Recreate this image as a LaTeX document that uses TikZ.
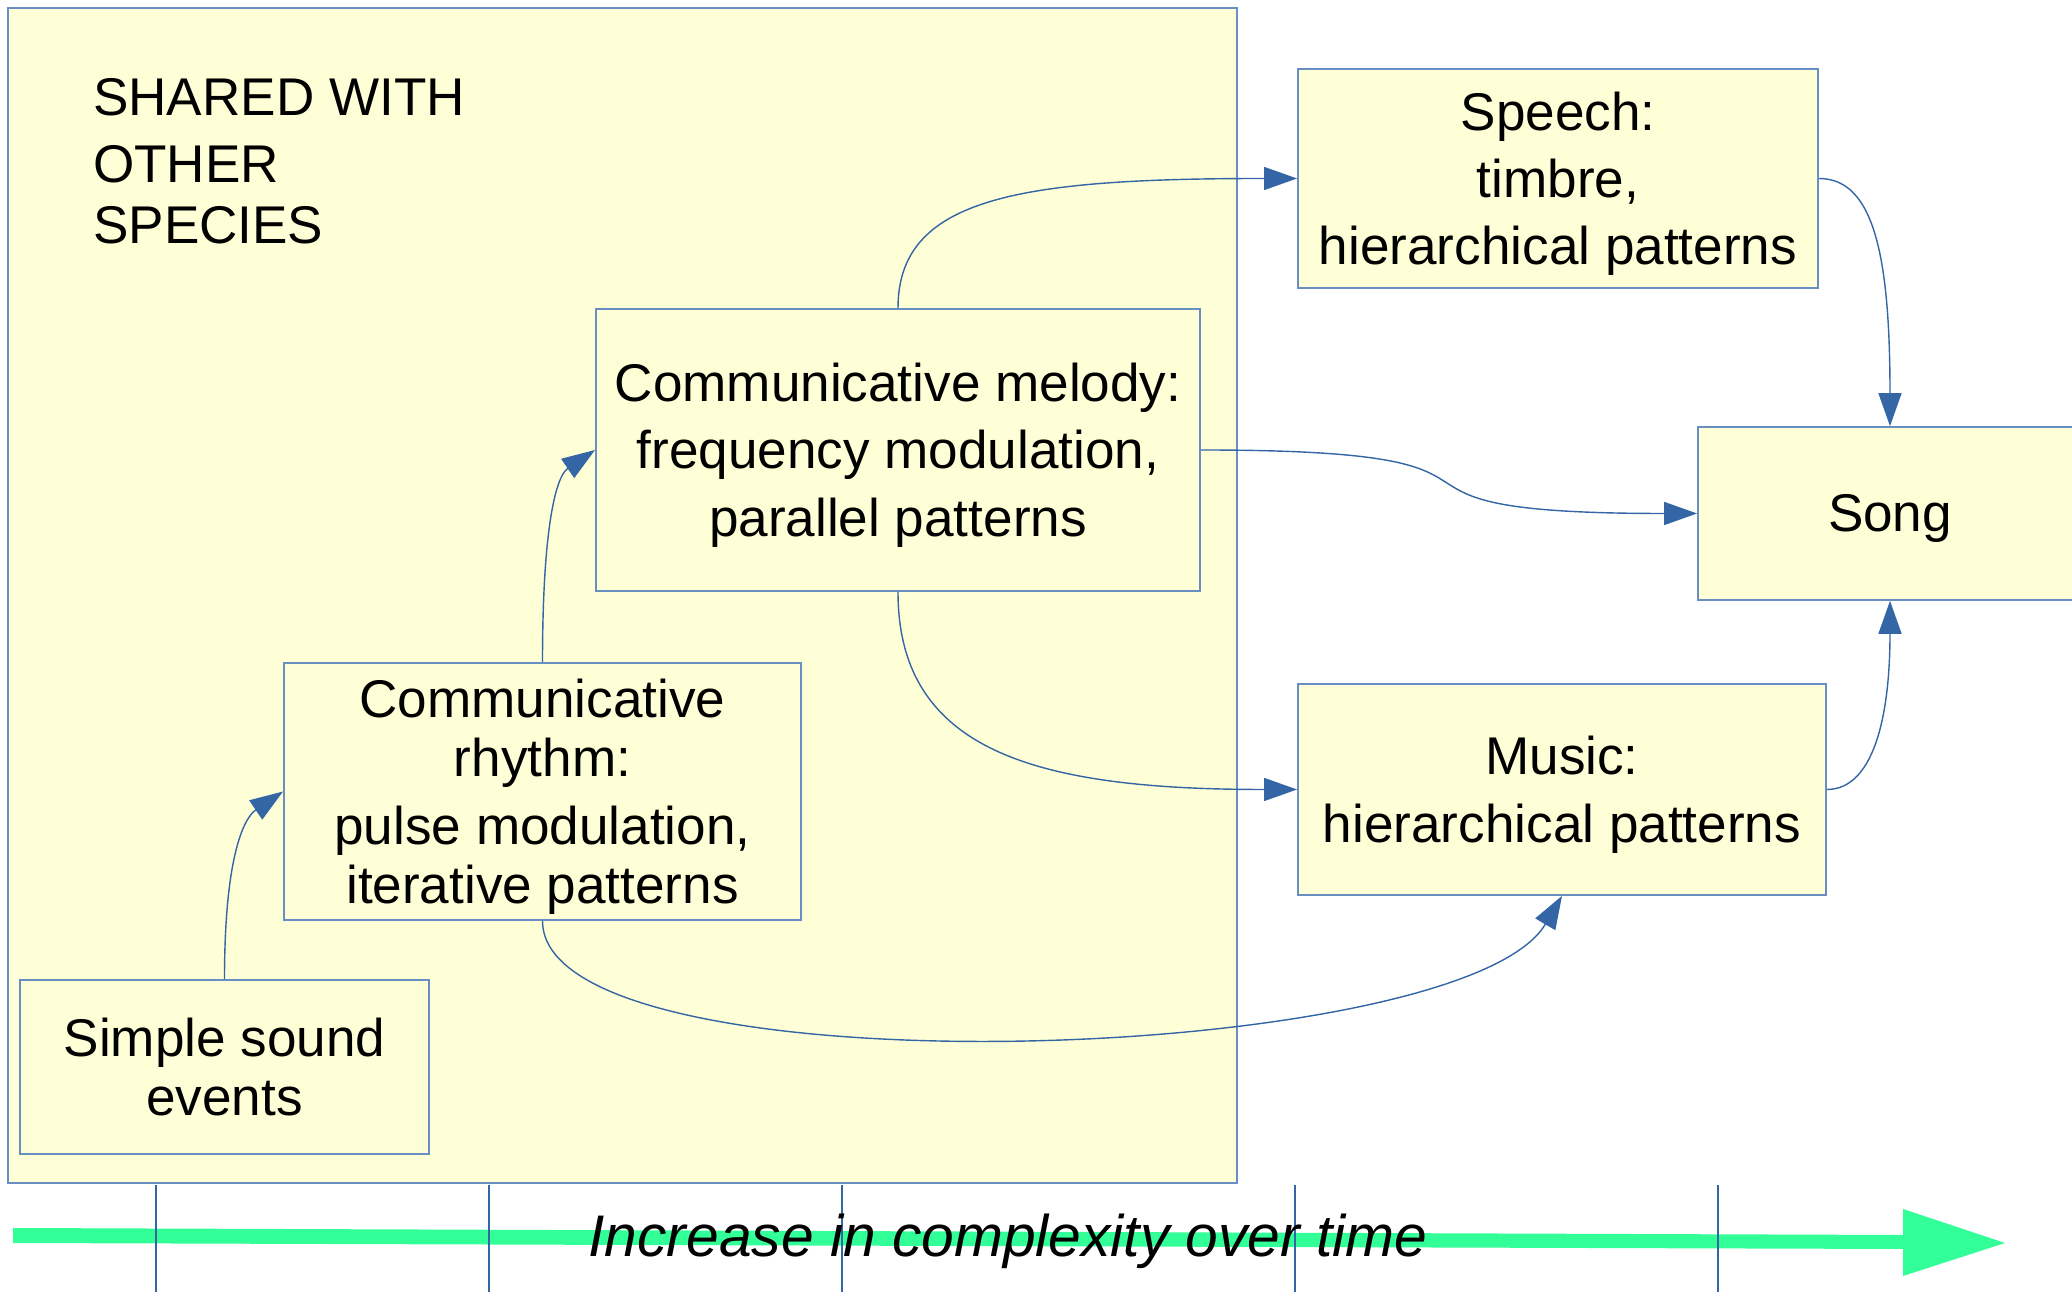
\documentclass[tikz,border=0pt]{standalone}
\usepackage{fontspec}
\setmainfont{Liberation Sans}
\usetikzlibrary{arrows.meta}
\definecolor{boxfill}{RGB}{255,255,215}
\definecolor{boxline}{RGB}{104,142,196}
\definecolor{linkblue}{RGB}{52,101,164}
\definecolor{timegreen}{RGB}{51,255,153}
\tikzset{
  stage/.style={draw=boxline, line width=0.45pt, fill=boxfill, inner sep=0pt},
  stagetext/.style={align=center, inner sep=0pt, font=\fontsize{15.1}{19.1}\selectfont},
  link/.style={draw=linkblue, line width=0.4pt,
    -{Triangle[length=0.33cm, width=0.23cm]}},
  tick/.style={draw=linkblue, line width=0.4pt},
}
\begin{document}
\begin{tikzpicture}[x=0.01cm, y=-0.01cm]
\useasboundingbox (0,0) rectangle (2072,1292);
\clip (0,0) rectangle (2072,1292);

% common ancestry region
\node[draw=boxline, fill=boxfill, line width=0.6pt, minimum width=12.29cm, minimum height=11.75cm] (shared) at (622.5,595.5) {};
\node[stagetext, anchor=west, align=left] (sharedlabel) at (92.5,161)
  {SHARED WITH\\ OTHER\\[-1.7pt] SPECIES};

% stage boxes
\node[stage, minimum width=4.09cm, minimum height=1.74cm] (simple) at (224.5,1067) {};
\node[stage, minimum width=5.17cm, minimum height=2.57cm] (rhythm) at (542.5,791.5) {};
\node[stage, minimum width=6.04cm, minimum height=2.82cm] (melody) at (898,450) {};
\node[stage, minimum width=5.20cm, minimum height=2.19cm] (speech) at (1558,178.5) {};
\node[stage, minimum width=5.28cm, minimum height=2.11cm] (music) at (1562,789.5) {};
\node[stage, minimum width=3.84cm, minimum height=1.73cm] (song) at (1890,513.5) {};

% stage texts
\node[stagetext] (simpletext) at (simple.center) {Simple sound\\[-2.1pt] events};
\node[stagetext] (rhythmtext) at ([yshift=-1.5pt]rhythm.center)
  {Communicative\\[-2.1pt] rhythm:\\ pulse modulation,\\[-2.1pt] iterative patterns};
\node[stagetext] (melodytext) at ([yshift=-1.5pt]melody.center)
  {Communicative melody:\\ frequency modulation,\\ parallel patterns};
\node[stagetext] (speechtext) at ([yshift=-1.5pt]speech.center)
  {Speech:\\ timbre,\\ hierarchical patterns};
\node[stagetext] (musictext) at ([yshift=-1.5pt]music.center)
  {Music:\\ hierarchical patterns};
\node[stagetext] (songtext) at ([yshift=-1.5pt]song.center) {Song};

% development links
\draw[link] (simple.north) .. controls +(0,-120) and +(-40,27) .. (rhythm.west);
\draw[link] (rhythm.north) .. controls +(0,-130) and +(-40,27) .. (melody.west);
\draw[link] (melody.north) .. controls +(0,-110) and +(-280,0) .. (speech.west);
\draw[link] (melody.east) .. controls +(380,0) and +(-380,0) .. (song.west);
\draw[link] (melody.south) .. controls +(0,160) and +(-260,0) .. (music.west);
\draw[link] (rhythm.south) .. controls +(0,175) and +(-100,170) .. (music.south);
\draw[link] (speech.east) .. controls +(55,0) and +(0,-170) .. (song.north);
\draw[link] (music.east) .. controls +(45,0) and +(0,120) .. (song.south);

% time axis
\fill[timegreen] (13,1228) -- (1903,1235) -- (1903,1209) -- (2005,1243)
  -- (1903,1276) -- (1903,1249) -- (13,1243) -- cycle;
\coordinate (t1) at (156,1185);
\coordinate (t2) at (489,1185);
\coordinate (t3) at (842,1185);
\coordinate (t4) at (1295,1185);
\coordinate (t5) at (1718,1185);
\foreach \t in {t1,t2,t3,t4,t5}
  \draw[tick] (\t) -- ++(0,110);
\node[font=\fontsize{16.7}{20}\selectfont\itshape, inner sep=0pt] (timelabel) at (1008,1241)
  {Increase in complexity over time};
\end{tikzpicture}
\end{document}
